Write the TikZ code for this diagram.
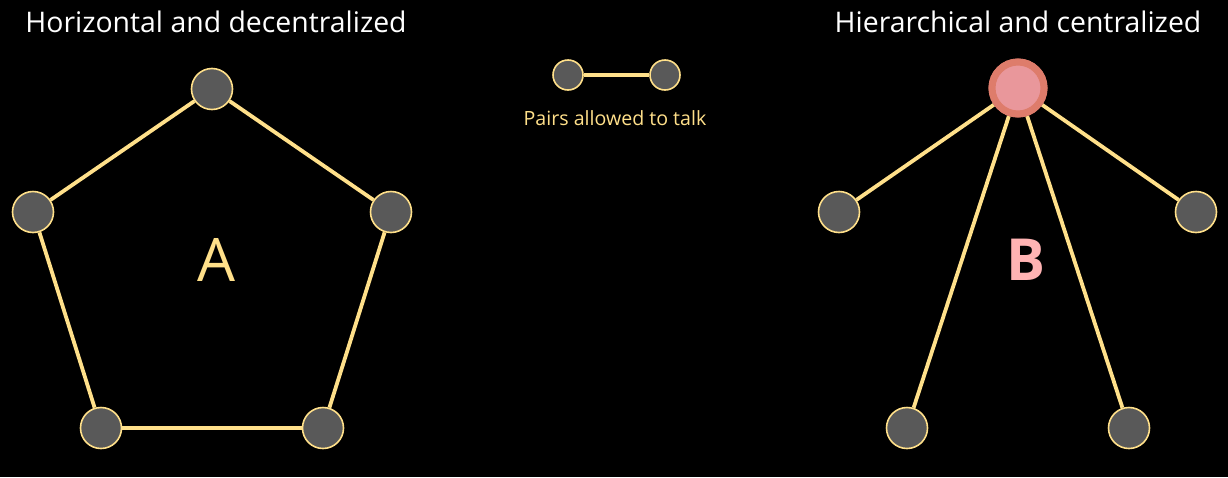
\documentclass[tikz,border=0pt]{standalone}
\usepackage{fontspec}
\setmainfont{Open Sans}
\definecolor{edgeyellow}{HTML}{FFE08A}
\definecolor{nodegray}{HTML}{595959}
\definecolor{hubring}{HTML}{DE7C6B}
\definecolor{hubfill}{HTML}{E9979B}
\definecolor{letterpink}{HTML}{FFB3B3}
\tikzset{
  member/.style={circle,draw=edgeyellow,fill=nodegray,line width=1.6pt,minimum size=41pt,inner sep=0pt},
  small member/.style={member,minimum size=30pt},
  hub/.style={circle,draw=hubring,fill=hubfill,line width=7pt,minimum size=52pt,inner sep=0pt},
  talk/.style={draw=edgeyellow,line width=3.8pt},
}
\begin{document}
\begin{tikzpicture}[x=1pt,y=-1pt]
    \fill[black] (0,0) rectangle (1228,477);
    \useasboundingbox (0,0) rectangle (1228,477);
    % titles
    \node[white,font=\fontsize{28.4}{32}\selectfont] (titleA) at (216,22) {Horizontal and decentralized};
    \node[white,font=\fontsize{28.4}{32}\selectfont] (titleB) at (1018,22) {Hierarchical and centralized};
    % A: ring of members
    \node[member] (a1) at (212,89) {};
    \node[member] (a2) at (391,212) {};
    \node[member] (a3) at (323,428) {};
    \node[member] (a4) at (101,428) {};
    \node[member] (a5) at (33,212) {};
    \foreach \i/\j in {a1/a2,a2/a3,a3/a4,a4/a5,a5/a1}
    {
        \draw[talk] (\i) -- (\j);
    }
    \node[edgeyellow,font=\fontsize{60}{64}\selectfont] (labelA) at (216,260) {A};
    % legend
    \node[small member] (l1) at (568,75) {};
    \node[small member] (l2) at (665,75) {};
    \draw[talk] (l1) -- (l2);
    \node[edgeyellow,font=\fontsize{19.6}{23}\selectfont] (legend) at (615,118) {Pairs allowed to talk};
    % B: hub and spokes
    \node[hub] (hub) at (1018,88) {};
    \node[member] (b1) at (839,212) {};
    \node[member] (b2) at (1196,212) {};
    \node[member] (b3) at (907,428) {};
    \node[member] (b4) at (1129,428) {};
    \foreach \j in {b1,b2,b3,b4}
    {
        \draw[talk] (hub) -- (\j);
    }
    \node[hub] at (hub) {};
    \node[letterpink,font=\bfseries\fontsize{58}{62}\selectfont] (labelB) at (1026,260) {B};
\end{tikzpicture}
\end{document}
